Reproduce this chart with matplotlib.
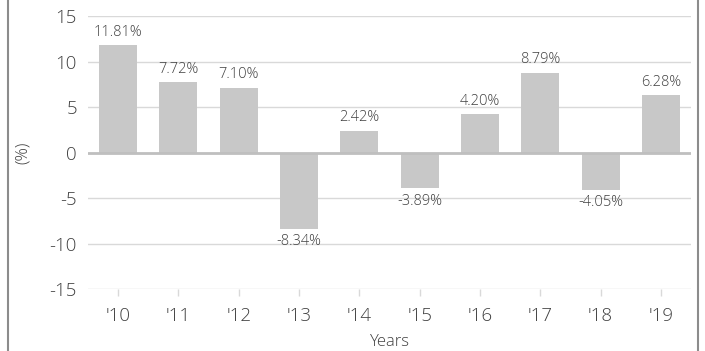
import matplotlib
matplotlib.use("Agg")
import matplotlib.pyplot as plt
from matplotlib.lines import Line2D

plt.rcParams['font.family'] = ['Open Sans', 'DejaVu Sans']
plt.rcParams['font.weight'] = 'light'
plt.rcParams['axes.labelweight'] = 'light'

years = ["'10", "'11", "'12", "'13", "'14", "'15", "'16", "'17", "'18", "'19"]
returns = [11.81, 7.72, 7.10, -8.34, 2.42, -3.89, 4.20, 8.79, -4.05, 6.28]
yticks = [-15, -10, -5, 0, 5, 10, 15]

text_color = '#404040'

fig = plt.figure(figsize=(7.05, 3.51), dpi=100)
ax = fig.add_axes([88 / 705, 1 - 289.3 / 351, (691 - 88) / 705, (289.3 - 16) / 351])

x = list(range(len(years)))
ax.bar(x, returns, width=0.63, color='#c8c8c8', zorder=2)

for xi, v in zip(x, returns):
    if v >= 0:
        ax.annotate(f"{v:.2f}%", (xi, v), xytext=(0, 4), textcoords='offset points',
                    ha='center', va='bottom', fontsize=10.5, color=text_color)
    else:
        ax.annotate(f"{v:.2f}%", (xi, v), xytext=(0, -4), textcoords='offset points',
                    ha='center', va='top', fontsize=10.5, color=text_color)

ax.set_xlim(-0.5, len(years) - 0.5)
ax.set_ylim(-15, 15)
ax.set_yticks(yticks)
ax.set_yticklabels([str(t) for t in yticks])
ax.set_xticks(x)
ax.set_xticklabels(years)

for t in yticks:
    if t == 0:
        ax.axhline(t, color='#bfbfbf', lw=2.0, zorder=3)
    else:
        ax.axhline(t, color='#d9d9d9', lw=1.0, zorder=1)

for s in ax.spines.values():
    s.set_visible(False)

ax.tick_params(axis='y', length=0, pad=8, labelsize=13.5, labelcolor=text_color)
ax.tick_params(axis='x', length=5, width=1, color='#d9d9d9', pad=8,
               labelsize=13.5, labelcolor=text_color)

ax.set_xlabel('Years', fontsize=12, color=text_color, fontweight='light')
ax.set_ylabel('(%)', fontsize=12, color=text_color, fontweight='light')
ax.xaxis.set_label_coords(0.5, -0.163)
ax.yaxis.set_label_coords(-0.094, 0.5)

fig.add_artist(Line2D([7.5 / 705, 7.5 / 705], [0, 1], color='#8c8c8c', lw=1.5))
fig.add_artist(Line2D([697.5 / 705, 697.5 / 705], [0, 1], color='#8c8c8c', lw=1.5))

fig.savefig('out.png', dpi=100)
